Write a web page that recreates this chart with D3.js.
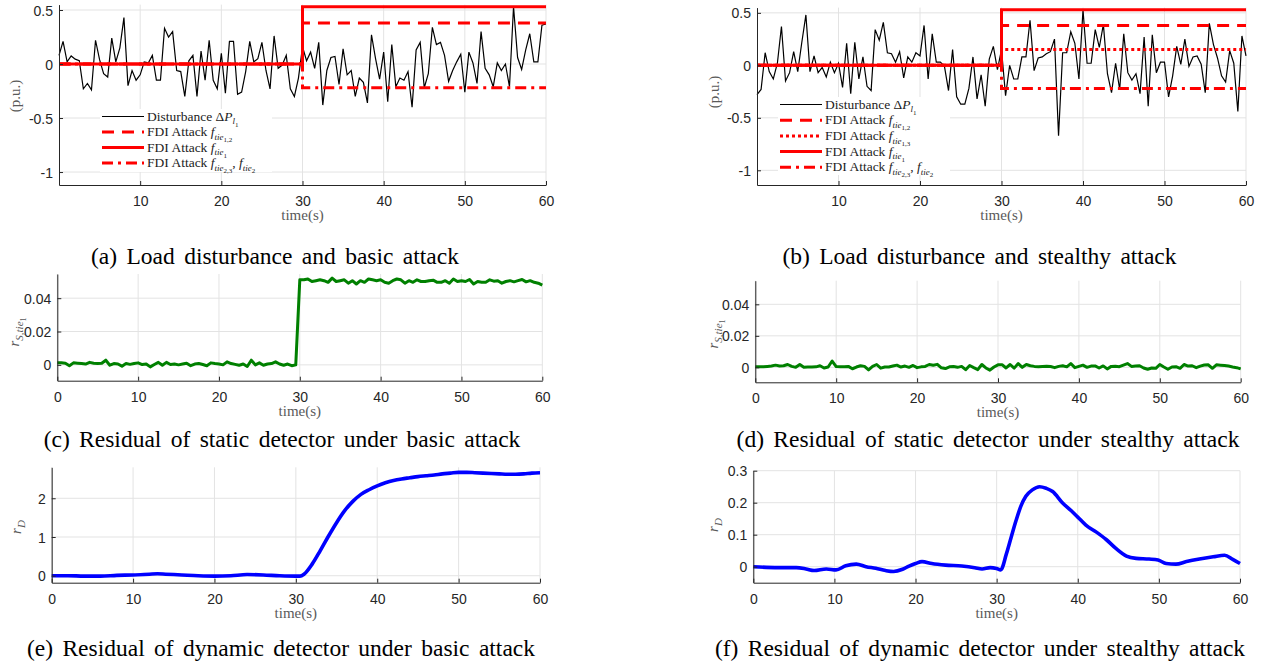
<!DOCTYPE html>
<html>
<head>
<meta charset="utf-8">
<script src="https://cdn.jsdelivr.net/npm/d3@7"></script>
<style>
  body { margin: 0; background: #fff; }
  svg { display: block; }
  text { white-space: pre; }
</style>
</head>
<body>
<div id="chart"></div>
<script>
var width = 1266;
var height = 666;

// all 121-sample series are sampled every 0.5 s from 0 to 60 s
var timeStep = 0.5;

// load disturbance, basic attack case (p.u.)
var disturbanceA = [
  0.08, 0.21, 0.02, 0.075, 0.045, 0.03, -0.23, -0.18, -0.24, 0.22,
  0.04, -0.09, -0.12, 0.24, 0.02, 0.15, 0.43, -0.2, -0.06, -0.15,
  -0.1, 0.02, 0.01, 0.08, -0.15, -0.15, 0.33, 0.25, 0.3, -0.06,
  -0.07, -0.3, 0.03, 0.08, -0.3, 0.12, -0.15, 0.22, -0.15, -0.23,
  0.1, -0.27, 0.21, 0.21, -0.28, -0.26, -0.07, 0.21, 0.02, 0.05,
  0.2, -0.06, -0.23, 0.26, -0.04, -0.01, 0.08, -0.23, -0.3, -0.13,
  0.16, 0.03, 0.11, -0.04, 0.2, -0.38, -0.06, 0.06, 0.07, -0.19,
  0.14, -0.1, -0.06, -0.3, -0.13, -0.17, -0.36, 0.27, 0.05, -0.14,
  0.11, -0.35, 0.18, -0.21, -0.13, -0.15, -0.07, -0.4, 0.13, 0.2,
  -0.22, -0.09, 0.34, 0.18, 0.2, 0.08, -0.16, -0.06, 0.02, 0.09,
  -0.26, 0.11, 0.01, -0.18, 0.3, -0.04, -0.1, -0.21, 0.01, -0.06,
  0, -0.21, 0.53, 0.06, -0.05, 0.13, 0.28, 0.02, 0.02, 0.36,
  0.37
];

// load disturbance, stealthy attack case (p.u.)
var disturbanceB = [
  -0.28, -0.23, 0.12, -0.06, -0.13, 0.02, 0.37, -0.15, -0.07, 0.13,
  -0.06, 0.22, 0.48, -0.06, 0.09, -0.07, -0.02, -0.11, 0.03, -0.07,
  0.02, -0.21, 0.21, -0.27, 0.22, -0.13, 0.08, -0.2, -0.24, 0.34,
  0.24, 0.41, 0.12, 0.11, 0.03, 0.13, -0.12, 0.08, 0.03, 0.12,
  0.09, 0.38, -0.13, 0.3, 0.03, 0.03, -0.01, -0.24, 0.15, -0.3,
  -0.37, -0.37, -0.22, 0.08, -0.32, -0.09, -0.39, 0.06, 0.18, -0.04,
  0.15, -0.29, 0, -0.13, -0.13, 0.08, 0.08, 0.43, -0.05, 0.07,
  0.08, 0.11, 0.13, 0.25, -0.67, 0.12, 0.12, 0.32, 0.21, -0.13,
  0.53, 0.02, 0.02, 0.34, 0.17, 0.39, -0.08, -0.26, 0.02, -0.23,
  0.3, -0.07, -0.14, -0.08, -0.27, 0.27, -0.39, 0.29, -0.07, 0.03,
  0.03, -0.3, -0.1, 0.18, 0.01, 0.25, -0.01, 0.08, 0.09, 0.01,
  -0.26, 0.4, 0.2, 0.07, -0.1, -0.16, 0.14, 0.02, -0.44, 0.28,
  0.09
];

// FDI attack signals: step at 30 s
var attackTime = [0, 30, 30, 60];
var attackTie1 = [0, 0, 0.53, 0.53];
var attackTie12 = [0, 0, 0.38, 0.38];
var attackTie13 = [0, 0, 0.15, 0.15];
var attackTie23 = [0, 0, -0.22, -0.22];

// static detector residual r_S,tie1
var staticResidualA = [
  0.0012, 0.0012, 0.001, -0.0005, 0.0012, 0.001, 0.0008, 0.0005, 0.0015, 0.001,
  0.0008, 0.001, 0.0028, -0.0002, 0.0008, 0.0005, -0.0008, 0.0008, 0.0003, 0.0008,
  0.0012, 0.0002, 0.0005, -0.0012, 0.0002, 0.0015, -0.0002, 0.0015, 0.0002, 0.0005,
  0, 0.0005, 0.001, -0.0005, 0.0005, 0.0008, 0.0002, -0.0005, 0.0012, 0.0008,
  0.0005, 0, 0.0018, 0.0008, 0.0003, -0.0002, 0.0005, -0.001, 0.0028, 0,
  0.0012, -0.0002, 0.0005, 0.0008, 0.0018, 0.0005, -0.0002, 0.0005, -0.0005, 0,
  0.051, 0.051, 0.0515, 0.05, 0.0505, 0.051, 0.0505, 0.0495, 0.052, 0.05,
  0.0505, 0.051, 0.049, 0.0505, 0.0485, 0.0505, 0.0495, 0.0515, 0.051, 0.0505,
  0.051, 0.0495, 0.049, 0.0505, 0.0515, 0.051, 0.049, 0.0505, 0.0495, 0.051,
  0.05, 0.05, 0.0505, 0.0508, 0.0495, 0.0495, 0.0505, 0.049, 0.0515, 0.05,
  0.0505, 0.05, 0.0512, 0.0485, 0.05, 0.0495, 0.0495, 0.051, 0.0502, 0.0505,
  0.049, 0.05, 0.0505, 0.0498, 0.0505, 0.0512, 0.0498, 0.0505, 0.0495, 0.049,
  0.0478
];

var staticResidualB = [
  0.0004, 0.0003, 0.0004, 0.0006, 0.0008, 0.0014, 0.0009, 0.001, 0.0018, 0.0006,
  0, 0.0018, 0, 0.0002, 0.0002, 0.0003, 0.001, -0.0004, 0.0002, 0.004,
  0.0005, 0.0004, 0.0003, 0.0006, -0.0009, 0.0002, 0.001, 0.0006, -0.0016, 0.0006,
  0.0018, -0.0005, 0.0002, 0.0002, 0.0008, 0.0014, 0.0002, 0.0008, 0, 0.0012,
  -0.0002, 0.0003, 0.0006, 0.0018, 0.0013, 0.0019, -0.0003, -0.0008, 0.0003, 0.0005,
  0, 0.0006, -0.0015, 0.0012, -0.0002, -0.0015, 0.0018, -0.0004, -0.0018, 0.0002,
  0.0016, 0.0017, -0.0004, 0.0018, -0.0005, 0.0024, 0, 0.0018, 0.001, 0.0006,
  0.0004, 0.0006, 0.0007, 0.0005, -0.0002, 0.0006, 0.001, 0.0003, 0.0024, -0.0002,
  0.0006, 0.0014, 0, 0.0008, 0.0009, -0.0004, 0.0009, -0.001, 0.0006, 0.0007,
  0.0004, 0.0014, 0.0024, 0.0006, 0.0008, 0.001, -0.0004, -0.0012, -0.0004, -0.0006,
  0.0018, 0.0002, -0.0012, 0.0002, 0.0004, -0.0006, 0.0018, 0.0008, 0.001, -0.0002,
  0.0008, 0.0015, 0.0016, -0.0006, 0.0016, 0.0014, 0.0012, 0.0008, 0.0002, -0.0002,
  -0.001
];

// dynamic detector residual r_D
var dynamicTimeA = [0, 2, 4, 6, 8, 10, 12, 13, 14, 16, 18, 20, 22, 24, 26, 28, 30, 30.5,
  31, 32, 33, 34, 35, 36, 37, 38, 39, 40, 41, 42, 43, 44, 45, 46, 47, 48, 49, 50,
  51, 52, 53, 54, 55, 56, 57, 58, 59, 60];
var dynamicResidualA = [0, 0, -0.01, -0.01, 0.01, 0.02, 0.04, 0.05, 0.04, 0.02, 0, -0.01, 0, 0.03, 0.02, 0, -0.01, -0.01,
  0.04, 0.3, 0.65, 1.02, 1.37, 1.68, 1.92, 2.1, 2.22, 2.32, 2.4, 2.46, 2.5, 2.53, 2.56, 2.58, 2.6, 2.63, 2.65, 2.67,
  2.67, 2.66, 2.65, 2.64, 2.63, 2.62, 2.62, 2.63, 2.65, 2.66];

var dynamicTimeB = [0, 1.6, 3.7, 5.3, 6.5, 7.5, 9, 10.2, 11.4, 12.7, 13.9, 15.1, 16.3, 17.3, 18.4, 19.2, 20, 20.8,
  22, 23.7, 25.7, 27.3, 28.2, 29.2, 30, 30.5, 31.2, 31.8, 32.4, 33, 33.6, 34.4, 35.3, 36.1, 36.9, 38.1, 39.2,
  40, 41, 42.3, 43.5, 44.7, 46, 47.2, 48.8, 49.9, 50.9, 52.1, 53.4, 55, 56.7, 58.1, 59.1, 60];
var dynamicResidualB = [0, -0.002, -0.003, -0.003, -0.007, -0.012, -0.007, -0.01, 0.003, 0.008, 0, -0.005, -0.012, -0.015, -0.008, 0.002, 0.01, 0.016,
  0.01, 0.005, 0.002, -0.003, -0.007, -0.003, -0.006, -0.01, 0.04, 0.093, 0.145, 0.19, 0.22, 0.24, 0.25, 0.245, 0.235, 0.2, 0.175,
  0.155, 0.13, 0.108, 0.085, 0.057, 0.033, 0.026, 0.024, 0.021, 0.01, 0.008, 0.016, 0.024, 0.031, 0.036, 0.023, 0.01];

// tick labels
var xTicksTop = [10, 20, 30, 40, 50, 60];
var xTicks = [0, 10, 20, 30, 40, 50, 60];
var yTicksDisturbance = [-1, -0.5, 0, 0.5];
var yTicksStatic = [0, 0.02, 0.04];
var yTicksDynamicA = [0, 1, 2];
var yTicksDynamicB = [0, 0.1, 0.2, 0.3];

var captions = [
  "(a) Load disturbance and basic attack",
  "(b) Load disturbance and stealthy attack",
  "(c) Residual of static detector under basic attack",
  "(d) Residual of static detector under stealthy attack",
  "(e) Residual of dynamic detector under basic attack",
  "(f) Residual of dynamic detector under stealthy attack"
];

var axisColor = "#262626";
var gridColor = "#e3e3e3";
var labelColor = "#5a5a5a";
var serif = "'Liberation Serif', 'Times New Roman', serif";
var sans = "'Liberation Sans', Arial, sans-serif";

const svg = d3
  .select("#chart")
  .append("svg")
  .attr("width", width)
  .attr("height", height);

// text with nested sub-scripts: parts are [text, italic, level]
function rich(text, parts, sizes) {
  var off = [0, sizes[0] * 0.28, sizes[0] * 0.45];
  var lvl = 0;
  parts.forEach((p) => {
    text
      .append("tspan")
      .attr("dy", off[p[2]] - off[lvl])
      .attr("font-size", sizes[p[2]])
      .attr("font-style", p[1] ? "italic" : "normal")
      .text(p[0]);
    lvl = p[2];
  });
}

function panel(p) {
  var x = d3.scaleLinear().domain(p.xDomain).range(p.xRange);
  var y = d3.scaleLinear().domain(p.yDomain).range(p.yRange);
  var g = svg.append("g");

  // grid
  g.append("g")
    .selectAll("line")
    .data(p.xTicks)
    .join("line")
    .attr("x1", (d) => x(d))
    .attr("x2", (d) => x(d))
    .attr("y1", p.yRange[0])
    .attr("y2", p.yRange[1])
    .attr("stroke", gridColor);
  g.append("g")
    .selectAll("line")
    .data(p.yTicks)
    .join("line")
    .attr("y1", (d) => y(d))
    .attr("y2", (d) => y(d))
    .attr("x1", p.xRange[0])
    .attr("x2", p.xRange[1])
    .attr("stroke", gridColor);

  var marks = g.append("g");
  var over = g.append("g");

  var xAxis = g
    .append("g")
    .attr("transform", `translate(0,${p.yRange[0]})`)
    .call(
      d3.axisBottom(x).tickValues(p.xTicks).tickSizeInner(-4).tickSizeOuter(0).tickPadding(11).tickFormat((d) => String(d))
    );
  var yAxis = g
    .append("g")
    .attr("transform", `translate(${p.xRange[0]},0)`)
    .call(
      d3.axisLeft(y).tickValues(p.yTicks).tickSizeInner(-4).tickSizeOuter(0).tickPadding(6).tickFormat((d) => String(d))
    );
  [xAxis, yAxis].forEach((a) => {
    a.select(".domain").attr("stroke", axisColor);
    a.selectAll(".tick line").attr("stroke", axisColor);
    a.selectAll(".tick text").attr("fill", axisColor).attr("font-family", sans).attr("font-size", 14);
  });
  yAxis.selectAll(".tick text").attr("dy", "0.36em");

  // x label
  g.append("text")
    .attr("x", (p.xRange[0] + p.xRange[1]) / 2)
    .attr("y", p.yRange[0] + 35)
    .attr("text-anchor", "middle")
    .attr("font-family", serif)
    .attr("font-size", 15)
    .attr("fill", labelColor)
    .text("time(s)");

  // y label
  var yl = g
    .append("text")
    .attr("transform", `translate(${p.yLabelX},${p.yLabelY}) rotate(-90)`)
    .attr("text-anchor", "middle")
    .attr("font-family", serif)
    .attr("fill", labelColor);
  rich(yl, p.yLabel, [15, 11, 8]);

  // caption
  svg
    .append("text")
    .attr("x", p.captionX)
    .attr("y", p.captionY)
    .attr("text-anchor", "middle")
    .attr("font-family", serif)
    .attr("font-size", 23.5)
    .attr("word-spacing", 3.5)
    .attr("fill", "#000")
    .text(p.caption);

  return { x: x, y: y, marks: marks, over: over };
}

function sampled(x, y) {
  return d3
    .line()
    .x((d, i) => x(i * timeStep))
    .y((d) => y(d));
}

function attackLine(x, y) {
  return d3
    .line()
    .x((d, i) => x(attackTime[i]))
    .y((d) => y(d));
}

function legend(layer, x0, y0, w, h, rowH, items) {
  var lg = layer.append("g");
  lg.append("rect").attr("x", x0).attr("y", y0).attr("width", w).attr("height", h).attr("fill", "#fff");
  items.forEach((it, i) => {
    var cy = y0 + 7.5 + i * rowH;
    lg.append("line")
      .attr("x1", x0 + 2)
      .attr("x2", x0 + 44)
      .attr("y1", cy)
      .attr("y2", cy)
      .attr("stroke", it.color)
      .attr("stroke-width", it.width)
      .attr("stroke-dasharray", it.dash);
    var t = lg
      .append("text")
      .attr("x", x0 + 47)
      .attr("y", cy + 4)
      .attr("font-family", serif)
      .attr("fill", "#222");
    rich(t, it.label, [13.5, 9, 7]);
  });
}

var dashed = "12,8";
var dotted = "3,3";
var dashDot = "11,5,3,5";

var lblDist = [["Disturbance Δ", 0, 0], ["P", 1, 0], ["l", 1, 1], ["1", 0, 2]];
var lbl12 = [["FDI Attack ", 0, 0], ["f", 1, 0], ["tie", 1, 1], ["1,2", 0, 2]];
var lbl13 = [["FDI Attack ", 0, 0], ["f", 1, 0], ["tie", 1, 1], ["1,3", 0, 2]];
var lbl1 = [["FDI Attack ", 0, 0], ["f", 1, 0], ["tie", 1, 1], ["1", 0, 2]];
var lbl23 = [["FDI Attack ", 0, 0], ["f", 1, 0], ["tie", 1, 1], ["2,3", 0, 2], [", ", 0, 0], ["f", 1, 0], ["tie", 1, 1], ["2", 0, 2]];

var puLabel = [["(p.u.)", 0, 0]];
var rsLabel = [["r", 1, 0], ["S,tie", 1, 1], ["1", 0, 2]];
var rdLabel = [["r", 1, 0], ["D", 1, 1]];

// ---- (a) ----
var pa = panel({
  xDomain: [0, 60], xRange: [59, 546], xTicks: xTicksTop,
  yDomain: [-1.12, 0.55], yRange: [185, 4.6], yTicks: yTicksDisturbance,
  yLabel: puLabel, yLabelX: 20, yLabelY: 96,
  caption: captions[0], captionX: 275, captionY: 264
});
pa.marks.append("path").datum(disturbanceA).attr("d", sampled(pa.x, pa.y))
  .attr("fill", "none").attr("stroke", "#000").attr("stroke-width", 1.2);
pa.marks.append("path").datum(attackTie23).attr("d", attackLine(pa.x, pa.y))
  .attr("fill", "none").attr("stroke", "red").attr("stroke-width", 3).attr("stroke-dasharray", dashDot);
pa.marks.append("path").datum(attackTie12).attr("d", attackLine(pa.x, pa.y))
  .attr("fill", "none").attr("stroke", "red").attr("stroke-width", 3).attr("stroke-dasharray", dashed);
pa.marks.append("path").datum(attackTie1).attr("d", attackLine(pa.x, pa.y))
  .attr("fill", "none").attr("stroke", "red").attr("stroke-width", 3);
legend(pa.over, 100, 109, 172, 63, 15.5, [
  { color: "#000", width: 1.2, dash: null, label: lblDist },
  { color: "red", width: 3, dash: dashed, label: lbl12 },
  { color: "red", width: 3, dash: null, label: lbl1 },
  { color: "red", width: 3, dash: dashDot, label: lbl23 }
]);

// ---- (b) ----
var pb = panel({
  xDomain: [0, 60], xRange: [757, 1246], xTicks: xTicksTop,
  yDomain: [-1.14, 0.55], yRange: [185, 7.6], yTicks: yTicksDisturbance,
  yLabel: puLabel, yLabelX: 719, yLabelY: 92,
  caption: captions[1], captionX: 979.5, captionY: 264
});
pb.marks.append("path").datum(disturbanceB).attr("d", sampled(pb.x, pb.y))
  .attr("fill", "none").attr("stroke", "#000").attr("stroke-width", 1.2);
pb.marks.append("path").datum(attackTie23).attr("d", attackLine(pb.x, pb.y))
  .attr("fill", "none").attr("stroke", "red").attr("stroke-width", 3).attr("stroke-dasharray", dashDot);
pb.marks.append("path").datum(attackTie13).attr("d", attackLine(pb.x, pb.y))
  .attr("fill", "none").attr("stroke", "red").attr("stroke-width", 3).attr("stroke-dasharray", dotted);
pb.marks.append("path").datum(attackTie12).attr("d", attackLine(pb.x, pb.y))
  .attr("fill", "none").attr("stroke", "red").attr("stroke-width", 3).attr("stroke-dasharray", dashed);
pb.marks.append("path").datum(attackTie1).attr("d", attackLine(pb.x, pb.y))
  .attr("fill", "none").attr("stroke", "red").attr("stroke-width", 3);
legend(pb.over, 778, 97, 172, 78, 15.7, [
  { color: "#000", width: 1.2, dash: null, label: lblDist },
  { color: "red", width: 3, dash: dashed, label: lbl12 },
  { color: "red", width: 3, dash: dotted, label: lbl13 },
  { color: "red", width: 3, dash: null, label: lbl1 },
  { color: "red", width: 3, dash: dashDot, label: lbl23 }
]);

// ---- (c) ----
var pc = panel({
  xDomain: [0, 60], xRange: [57.3, 542.3], xTicks: xTicks,
  yDomain: [-0.0095, 0.0545], yRange: [380.7, 274], yTicks: yTicksStatic,
  yLabel: rsLabel, yLabelX: 19, yLabelY: 332,
  caption: captions[2], captionX: 282, captionY: 447
});
pc.marks.append("path").datum(staticResidualA).attr("d", sampled(pc.x, pc.y))
  .attr("fill", "none").attr("stroke", "#008000").attr("stroke-width", 3).attr("stroke-linejoin", "round");

// ---- (d) ----
var pd = panel({
  xDomain: [0, 60], xRange: [755.3, 1240.7], xTicks: xTicks,
  yDomain: [-0.0095, 0.055], yRange: [382.3, 280.7], yTicks: yTicksStatic,
  yLabel: rsLabel, yLabelX: 718, yLabelY: 334,
  caption: captions[3], captionX: 988, captionY: 447
});
pd.marks.append("path").datum(staticResidualB).attr("d", sampled(pd.x, pd.y))
  .attr("fill", "none").attr("stroke", "#008000").attr("stroke-width", 3).attr("stroke-linejoin", "round");

// ---- (e) ----
var pe = panel({
  xDomain: [0, 60], xRange: [51.7, 540], xTicks: xTicks,
  yDomain: [-0.18, 2.8], yRange: [582.7, 467.3], yTicks: yTicksDynamicA,
  yLabel: rdLabel, yLabelX: 20.5, yLabelY: 527,
  caption: captions[4], captionX: 281, captionY: 656
});
pe.marks.append("path").datum(dynamicResidualA)
  .attr("d", d3.line().x((d, i) => pe.x(dynamicTimeA[i])).y((d) => pe.y(d)).curve(d3.curveMonotoneX))
  .attr("fill", "none").attr("stroke", "#0000ff").attr("stroke-width", 3.6).attr("stroke-linejoin", "round");

// ---- (f) ----
var pf = panel({
  xDomain: [0, 60], xRange: [753.3, 1240], xTicks: xTicks,
  yDomain: [-0.05, 0.3], yRange: [582.7, 470.7], yTicks: yTicksDynamicB,
  yLabel: rdLabel, yLabelX: 718, yLabelY: 525,
  caption: captions[5], captionX: 980, captionY: 656
});
pf.marks.append("path").datum(dynamicResidualB)
  .attr("d", d3.line().x((d, i) => pf.x(dynamicTimeB[i])).y((d) => pf.y(d)).curve(d3.curveMonotoneX))
  .attr("fill", "none").attr("stroke", "#0000ff").attr("stroke-width", 3.6).attr("stroke-linejoin", "round");
</script>
</body>
</html>
